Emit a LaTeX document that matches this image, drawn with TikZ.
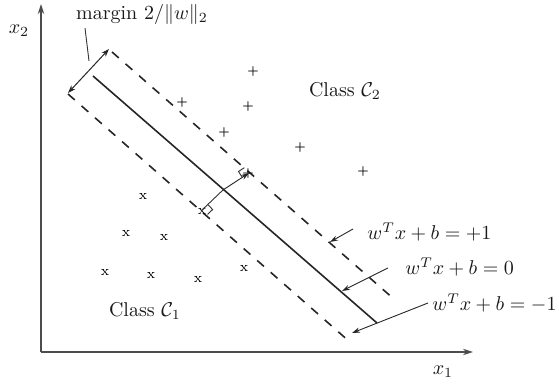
\documentclass[tikz,border=0pt]{standalone}
\usetikzlibrary{arrows.meta,calc}
\begin{document}
\begin{tikzpicture}[x=0.5pt,y=-0.5pt,
  axis/.style={draw=black!70, line width=0.6pt, -{Stealth[length=5pt,width=3.2pt]}},
  hyper/.style={line width=0.8pt, draw=black!85},
  marg/.style={line width=0.8pt, draw=black!85, dash pattern=on 4.5pt off 4.5pt},
  lead/.style={line width=0.45pt, draw=black!85, -{Stealth[length=4pt,width=2.6pt]}},
  twohead/.style={line width=0.5pt, draw=black!85, {Stealth[length=4pt,width=2.8pt]}-{Stealth[length=4pt,width=2.8pt]}},
  thin/.style={line width=0.45pt, draw=black!80},
  plusmark/.style={inner sep=0pt, font=\footnotesize\boldmath, scale=0.75},
  crossmark/.style={inner sep=0pt, font=\scriptsize},
  lab/.style={inner sep=0pt, text=black!90}]
\useasboundingbox (0,0) rectangle (559,384);
% axes
\coordinate (O) at (41,352);
\coordinate (Ytop) at (41,4);
\coordinate (Xend) at (473,352);
\draw[axis] (O) -- (Ytop);
\draw[axis] (O) -- (Xend);
\node[lab] (lx2) at (19,31) {$x_2$};
\node[lab] (lx1) at (443,372) {$x_1$};
% hyperplanes
\coordinate (s1) at (93,76);
\coordinate (s2) at (377,323);
\coordinate (u1) at (112,52);
\coordinate (u2) at (395,300);
\coordinate (l1) at (68,94);
\coordinate (l2) at (351,343);
\draw[hyper] (s1) -- (s2);
\draw[marg] (u1) -- (u2);
\draw[marg] (l1) -- (l2);
% margin arrow
\coordinate (ma) at (68,93);
\coordinate (mb) at (109,49);
\draw[twohead] (ma) -- (mb);
\node[lab] (mlab) at (142,15) {margin $2/\|w\|_2$};
\coordinate (m1) at (85,28);
\coordinate (m2) at (89,61);
\draw[thin] (m1) -- (m2);
% class 2 points
\foreach \n/\p in {p1/{(253,72)}, p2/{(248,107)}, p3/{(182,103)}, p4/{(224,133)}, p5/{(248,174)}, p6/{(300,148)}, p7/{(363,172)}}
  \node[plusmark] (\n) at \p {$+$};
% class 1 points
\foreach \n/\p in {n1/{(143,196)}, n2/{(126,233)}, n3/{(164,237)}, n4/{(105,272)}, n5/{(151,275)}, n6/{(198,279)}, n7/{(244,268)}, n8/{(202,211)}}
  \node[crossmark] (\n) at \p {x};
% perpendiculars to support vectors
\coordinate (C) at (223,190);
\coordinate (A) at (249,173);
\coordinate (B) at (202,210);
\draw[lead] (C) -- (A);
\draw[thin] (C) -- (B);
% right-angle marks
\coordinate (a1) at ($(A)!4pt!(C)$);
\coordinate (a2) at ($(a1)!3.5pt!90:(A)$);
\coordinate (a3) at ($(a2)!3.5pt!90:(a1)$);
\draw[thin] (a1) -- (a2) -- (a3);
\coordinate (b1) at ($(B)!4pt!(C)$);
\coordinate (b2) at ($(b1)!3.5pt!90:(B)$);
\coordinate (b3) at ($(b2)!3.5pt!90:(b1)$);
\draw[thin] (b1) -- (b2) -- (b3);
% labels
\node[lab] (c1) at (145,311) {Class $\mathcal{C}_1$};
\node[lab] (c2) at (345,91) {Class $\mathcal{C}_2$};
\node[lab, anchor=west] (e1) at (367,232) {$w^Tx+b=+1$};
\node[lab, anchor=west] (e0) at (405,267) {$w^Tx+b=0$};
\node[lab, anchor=west] (em) at (432,303) {$w^Tx+b=-1$};
\coordinate (e1s) at (353,229);
\coordinate (e1t) at (330,242);
\coordinate (e0s) at (388,268);
\coordinate (e0t) at (342,291);
\coordinate (ems) at (428,303);
\coordinate (emt) at (352,333);
\draw[lead] (e1s) -- (e1t);
\draw[lead] (e0s) -- (e0t);
\draw[lead] (ems) -- (emt);
\end{tikzpicture}
\end{document}
